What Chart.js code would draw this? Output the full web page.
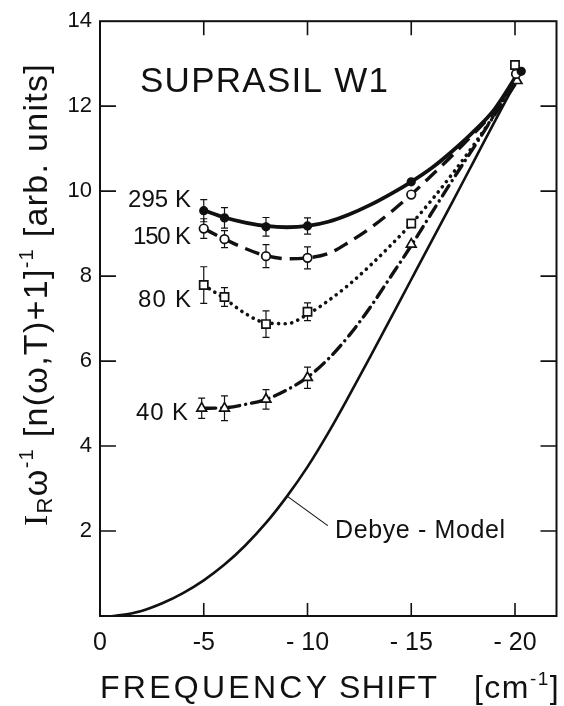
<!DOCTYPE html>
<html>
<head>
<meta charset="utf-8">
<title>Suprasil W1</title>
<style>
    body { margin: 0; background: #fff; }
    #chart { width: 564px; height: 706px; }
</style>
</head>
<body>
<div id="chart">
    <canvas id="myChart" width="564" height="706"></canvas>
</div>
<script src="https://cdn.jsdelivr.net/npm/chart.js@4/dist/chart.umd.min.js"></script>
<script>
    // axis ticks
    const xTicks = [0, -5, -10, -15, -20];
    const xTickLabels = ['0', '-5', '- 10', '- 15', '- 20'];
    const yTicks = [0, 2, 4, 6, 8, 10, 12, 14];
    const yTickLabels = ['', '2', '4', '6', '8', '10', '12', '14'];

    // measured points (with error bars)
    const x295 = [-5, -6, -8, -10, -15, -20.3];
    const y295 = [9.54, 9.37, 9.16, 9.18, 10.22, 12.82];
    const e295 = [0.26, 0.24, 0.22, 0.19, 0, 0];

    const x150 = [-5, -6, -8, -10, -15, -20.05];
    const y150 = [9.12, 8.87, 8.47, 8.43, 9.92, 12.76];
    const e150 = [0.23, 0.2, 0.27, 0.26, 0, 0];

    const x80 = [-5, -6, -8, -10, -15, -20];
    const y80 = [7.79, 7.51, 6.87, 7.16, 9.24, 12.97];
    const e80 = [0.43, 0.22, 0.31, 0.21, 0, 0];

    const x40 = [-4.9, -6, -8, -10, -15, -20.1];
    const y40 = [4.89, 4.89, 5.1, 5.61, 8.75, 12.6];
    const e40 = [0.24, 0.29, 0.23, 0.25, 0, 0];

    // fitted curves
    const fitX = [-5, -6, -7, -8, -9, -10, -11, -12, -13, -14, -15, -16, -17, -18, -19, -20.2];
    const fit295 = [9.55, 9.38, 9.26, 9.18, 9.15, 9.18, 9.28, 9.45, 9.67, 9.93, 10.22, 10.55, 10.95, 11.4, 11.92, 12.82];
    const fit150 = [9.12, 8.87, 8.65, 8.48, 8.41, 8.43, 8.53, 8.8, 9.12, 9.5, 9.92, 10.38, 10.85, 11.35, 11.88, 12.75];
    const fit80 = [7.79, 7.47, 7.12, 6.9, 6.88, 7.1, 7.42, 7.8, 8.24, 8.72, 9.23, 9.8, 10.42, 11.08, 11.8, 12.8];
    const fit40 = [4.89, 4.9, 4.98, 5.1, 5.32, 5.62, 6.05, 6.6, 7.25, 7.98, 8.72, 9.5, 10.27, 11.02, 11.78, 12.65];

    // Debye model
    const debX = [-0.6, -1, -2, -3, -4, -5, -6, -7, -8, -9, -10, -11, -12, -13, -14, -15, -16, -17, -18, -19, -20.1];
    const debY = [0, 0.02, 0.12, 0.3, 0.54, 0.84, 1.21, 1.66, 2.19, 2.81, 3.51, 4.31, 5.18, 6.08, 7.0, 7.92, 8.84, 9.76, 10.69, 11.62, 12.62];
    const debLabelAt = 9; // index of the point the leader line touches

    const ink = '#111';
    const sans = '"Liberation Sans", Arial, sans-serif';
    const narrow = '"Liberation Sans Narrow", "Liberation Sans", sans-serif';

    function pts(xs, ys) {
        return xs.map((x, i) => ({ x: x, y: ys[i] }));
    }

    function markers(xs, ys, style, fill, r) {
        return {
            data: pts(xs, ys),
            showLine: false,
            pointStyle: style,
            pointRadius: r,
            pointBackgroundColor: fill,
            pointBorderColor: ink,
            pointBorderWidth: 1.7,
            order: 0
        };
    }

    function curve(xs, ys, width, dash, cap) {
        return {
            data: pts(xs, ys),
            showLine: true,
            pointRadius: 0,
            borderColor: ink,
            borderWidth: width,
            borderDash: dash,
            borderCapStyle: cap,
            cubicInterpolationMode: 'monotone',
            order: 1
        };
    }

    const errSets = [[x295, y295, e295], [x150, y150, e150], [x80, y80, e80], [x40, y40, e40]];

    function fitText(ctx, s, x0, x1, y, font) {
        ctx.font = font;
        ctx.letterSpacing = '0px';
        const w = ctx.measureText(s).width;
        const ls = (x1 - x0 - w) / Math.max(1, s.length - 1);
        ctx.letterSpacing = ls + 'px';
        ctx.textAlign = 'left';
        ctx.fillText(s, x0, y);
        ctx.letterSpacing = '0px';
    }

    // runs of text with sub/superscripts, stretched to a given length
    function drawRuns(ctx, runs, x0, y, len) {
        let w = 0, n = 0;
        ctx.letterSpacing = '0px';
        runs.forEach(r => { ctx.font = r.f; r.w = ctx.measureText(r.t).width; w += r.w; n += r.t.length; });
        const ls = len ? (len - w) / n : 0;
        let x = x0;
        ctx.textAlign = 'left';
        runs.forEach(r => {
            ctx.font = r.f;
            ctx.letterSpacing = ls + 'px';
            ctx.fillText(r.t, x, y + (r.dy || 0));
            x += r.w + ls * r.t.length;
        });
        ctx.letterSpacing = '0px';
    }

    const decor = {
        id: 'decor',
        beforeDatasetsDraw(chart) {
            const ctx = chart.ctx;
            const xs = chart.scales.x, ys = chart.scales.y;
            ctx.save();
            ctx.strokeStyle = ink;
            ctx.lineWidth = 1.2;
            errSets.forEach(([xa, ya, ea]) => {
                xa.forEach((xv, i) => {
                    if (!ea[i]) return;
                    const px = xs.getPixelForValue(xv);
                    const t = ys.getPixelForValue(ya[i] + ea[i]);
                    const b = ys.getPixelForValue(ya[i] - ea[i]);
                    ctx.beginPath();
                    ctx.moveTo(px, t); ctx.lineTo(px, b);
                    ctx.moveTo(px - 3.5, t); ctx.lineTo(px + 3.5, t);
                    ctx.moveTo(px - 3.5, b); ctx.lineTo(px + 3.5, b);
                    ctx.stroke();
                });
            });
            ctx.restore();
        },
        afterDraw(chart) {
            const ctx = chart.ctx;
            const a = chart.chartArea;
            const xs = chart.scales.x, ys = chart.scales.y;
            ctx.save();
            ctx.strokeStyle = ink;
            ctx.fillStyle = ink;

            // frame
            ctx.lineWidth = 2;
            ctx.strokeRect(a.left, a.top, a.right - a.left, a.bottom - a.top);

            // inward ticks on all four sides
            ctx.lineWidth = 1.6;
            ctx.beginPath();
            xTicks.forEach(v => {
                if (v === 0) return;
                const px = xs.getPixelForValue(v);
                ctx.moveTo(px, a.bottom); ctx.lineTo(px, a.bottom - 13);
                ctx.moveTo(px, a.top); ctx.lineTo(px, a.top + 14);
            });
            yTicks.forEach(v => {
                if (v === 0 || v === 14) return;
                const py = ys.getPixelForValue(v);
                ctx.moveTo(a.left, py); ctx.lineTo(a.left + 16, py);
                ctx.moveTo(a.right, py); ctx.lineTo(a.right - 16, py);
            });
            ctx.stroke();

            // labels
            ctx.textBaseline = 'alphabetic';
            fitText(ctx, 'SUPRASIL W1', 140, 388, 92, '35px ' + sans);
            fitText(ctx, '295 K', 128, 191, 207, '24px ' + sans);
            fitText(ctx, '150 K', 133, 191, 244, '24px ' + sans);
            fitText(ctx, '80 K', 138, 191, 307, '24px ' + sans);
            fitText(ctx, '40 K', 136, 188, 420, '24px ' + sans);
            fitText(ctx, 'Debye - Model', 335, 505, 538, '25px ' + sans);

            // leader line to the Debye curve
            const lx = xs.getPixelForValue(debX[debLabelAt]) + 1;
            const ly = ys.getPixelForValue(debY[debLabelAt]);
            ctx.lineWidth = 1.1;
            ctx.beginPath();
            ctx.moveTo(lx, ly);
            ctx.lineTo(lx + 40, ly + 29);
            ctx.stroke();

            // x title
            fitText(ctx, 'FREQUENCY', 100, 327, 698, '32px ' + sans);
            fitText(ctx, 'SHIFT', 339, 437, 698, '32px ' + sans);
            drawRuns(ctx, [
                { t: '[cm', f: '32px ' + sans },
                { t: '-1', f: '19px ' + sans, dy: -13 },
                { t: ']', f: '32px ' + sans }
            ], 474, 698, 86);

            // y title, rotated
            ctx.translate(47, 526);
            ctx.rotate(-Math.PI / 2);
            drawRuns(ctx, [
                { t: 'I', f: '34px "Liberation Serif", serif' },
                { t: 'R', f: '22px ' + sans, dy: 5 },
                { t: 'ω', f: '34px ' + sans },
                { t: '-1', f: '20px ' + sans, dy: -14 },
                { t: ' [n(ω,T)+1]', f: '34px ' + sans },
                { t: '-1', f: '20px ' + sans, dy: -14 },
                { t: ' [arb. units]', f: '34px ' + sans }
            ], 0, 0, 463);
            ctx.restore();
        }
    };

    const ctx = document.getElementById('myChart').getContext('2d');
    const myChart = new Chart(ctx, {
        type: 'scatter',
        data: {
            datasets: [
                markers(x295, y295, 'circle', ink, 3.8),
                markers(x150, y150, 'circle', '#fff', 4.3),
                markers(x80, y80, 'rect', '#fff', 5.8),
                markers(x40, y40, 'triangle', '#fff', 5.6),
                curve(fitX, fit295, 3.8, [], 'butt'),
                curve(fitX, fit150, 3.4, [15, 8], 'butt'),
                curve(fitX, fit80, 3.6, [0.1, 6.5], 'round'),
                curve(fitX, fit40, 3.4, [12, 6, 0.1, 6], 'round'),
                curve(debX, debY, 2.6, [], 'butt')
            ]
        },
        options: {
            responsive: false,
            animation: false,
            events: [],
            layout: { padding: { top: 21, right: 3, left: 0, bottom: 0 } },
            plugins: { legend: { display: false }, tooltip: { enabled: false } },
            scales: {
                x: {
                    type: 'linear',
                    reverse: true,
                    min: -22,
                    max: 0,
                    grid: { display: false, drawTicks: false },
                    border: { display: false },
                    afterBuildTicks: s => { s.ticks = xTicks.map(v => ({ value: v })); },
                    afterFit: s => { s.height = 90; },
                    ticks: {
                        autoSkip: false,
                        maxRotation: 0,
                        padding: 12,
                        color: ink,
                        font: { family: narrow, size: 25 },
                        callback: (v, i) => xTickLabels[i]
                    }
                },
                y: {
                    min: 0,
                    max: 14,
                    grid: { display: false, drawTicks: false },
                    border: { display: false },
                    afterBuildTicks: s => { s.ticks = yTicks.map(v => ({ value: v })); },
                    afterFit: s => { s.width = 100; },
                    ticks: {
                        padding: 8,
                        color: ink,
                        font: { family: narrow, size: 22 },
                        callback: (v, i) => yTickLabels[i]
                    }
                }
            }
        },
        plugins: [decor]
    });
</script>
</body>
</html>
